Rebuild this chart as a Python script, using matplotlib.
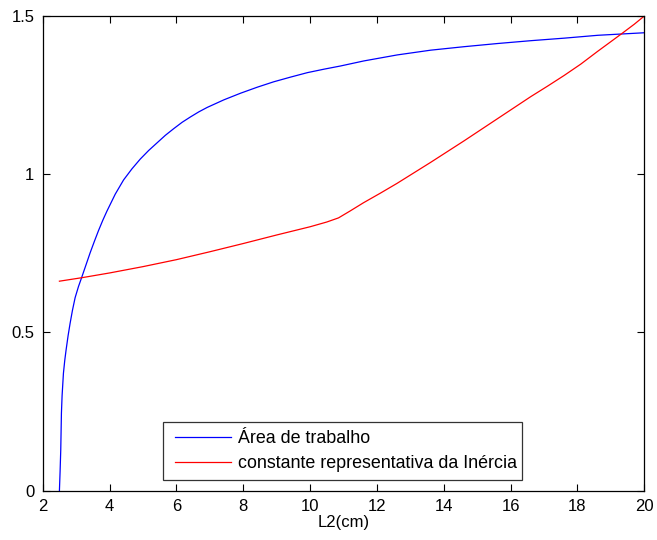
import matplotlib
matplotlib.use("Agg")
import matplotlib.pyplot as plt
from matplotlib.lines import Line2D
from matplotlib.legend_handler import HandlerLine2D
from matplotlib.ticker import FixedLocator, FixedFormatter

# Workspace area as a function of link length L2
area_x = [2.50, 2.52, 2.54, 2.56, 2.58, 2.62, 2.66, 2.70, 2.76, 2.82, 2.89, 2.97,
          3.07, 3.17, 3.30, 3.42, 3.55, 3.67, 3.80, 3.92, 4.17, 4.42, 4.67, 4.92,
          5.17, 5.42, 5.67, 5.92, 6.17, 6.42, 6.67, 6.92, 7.42, 7.92, 8.42, 8.91,
          9.42, 9.92, 10.42, 10.91, 11.61, 12.61, 13.61, 14.61, 15.61, 16.61,
          17.61, 18.61, 20.00]
area_y = [0.000, 0.060, 0.129, 0.245, 0.300, 0.371, 0.412, 0.445, 0.490, 0.529,
          0.570, 0.610, 0.645, 0.675, 0.715, 0.752, 0.789, 0.822, 0.855, 0.883,
          0.937, 0.982, 1.017, 1.048, 1.075, 1.099, 1.123, 1.144, 1.164, 1.181,
          1.197, 1.211, 1.235, 1.256, 1.275, 1.292, 1.307, 1.321, 1.332, 1.342,
          1.358, 1.377, 1.392, 1.403, 1.413, 1.422, 1.430, 1.439, 1.447]

# Inertia constant as a function of L2
inertia_x = [2.50, 3.17, 4.00, 5.00, 6.00, 7.00, 8.00, 9.00, 10.00, 10.50,
             10.85, 11.20, 11.60, 12.10, 12.60, 13.10, 13.60, 14.10, 14.60,
             15.10, 15.60, 16.10, 16.60, 17.10, 17.60, 18.10, 18.60, 19.00,
             19.36, 19.70, 20.00]
inertia_y = [0.662, 0.673, 0.688, 0.708, 0.730, 0.755, 0.781, 0.808, 0.834,
             0.849, 0.862, 0.884, 0.910, 0.940, 0.971, 1.004, 1.037, 1.071,
             1.105, 1.140, 1.175, 1.210, 1.245, 1.278, 1.312, 1.348, 1.388,
             1.419, 1.447, 1.474, 1.500]

x_ticks = [2, 4, 6, 8, 10, 12, 14, 16, 18, 20]
y_ticks = [0, 0.5, 1, 1.5]
y_tick_labels = ["0", "0.5", "1", "1.5"]

plt.rcParams["font.family"] = ["Liberation Sans", "DejaVu Sans"]

fig = plt.figure(figsize=(6.57, 5.40), dpi=100)
ax = fig.add_axes([0.065, 0.0913, 0.9157, 0.8791])

ax.plot(area_x, area_y, color="#0000ff", lw=0.9, label="Área de trabalho")
ax.plot(inertia_x, inertia_y, color="#ff0000", lw=0.9,
        label="constante representativa da Inércia")

ax.set_xlim(2, 20)
ax.set_ylim(0, 1.5)
ax.xaxis.set_major_locator(FixedLocator(x_ticks))
ax.yaxis.set_major_locator(FixedLocator(y_ticks))
ax.yaxis.set_major_formatter(FixedFormatter(y_tick_labels))
ax.tick_params(direction="in", length=5, width=0.8, top=True, right=True,
               labelsize=12, colors="black", pad=6)
for s in ax.spines.values():
    s.set_linewidth(0.9)
    s.set_color("black")

ax.set_xlabel("L2(cm)", fontsize=12, labelpad=1)

leg = ax.legend(loc="lower left", bbox_to_anchor=(0.2, 0.0225, 0.597, 0.1215),
                mode="expand", fontsize=12.9, frameon=True, fancybox=False,
                edgecolor="black", handlelength=3.35, borderaxespad=0,
                borderpad=0.45, labelspacing=0.45, handletextpad=0.4,
                handler_map={Line2D: HandlerLine2D(xpad=0.22)})
leg.get_frame().set_linewidth(0.9)

fig.savefig("out.png", dpi=100)
